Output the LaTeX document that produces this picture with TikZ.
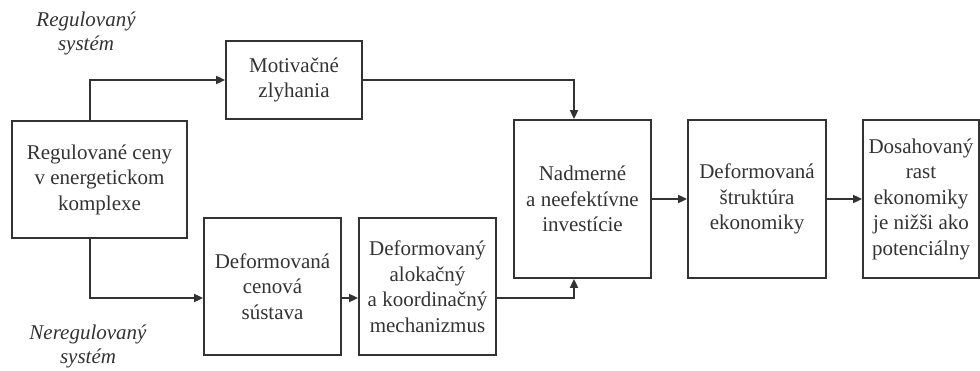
\documentclass[tikz,border=0pt]{standalone}
\usepackage{fontspec}
\setmainfont{Liberation Serif}
\usetikzlibrary{arrows.meta}
\definecolor{ink}{HTML}{333333}
\begin{document}
\begin{tikzpicture}[x=1pt,y=-1pt,
  box/.style={draw=ink,line width=1.8pt,inner sep=0pt,align=center,text=ink,
    font=\fontsize{21}{25.5}\selectfont},
  lab/.style={align=center,text=ink,font=\fontsize{21}{24}\selectfont\itshape},
  arr/.style={draw=ink,line width=1.8pt,-{Triangle[length=9pt,width=8pt]}}]
\useasboundingbox (0,0) rectangle (980,370);
\node[box,minimum width=175pt,minimum height=117pt] (reg) at (99.5,179.5) {Regulované ceny\\v energetickom\\komplexe};
\node[box,minimum width=136pt,minimum height=78pt] (mot) at (294,80) {Motivačné\\zlyhania};
\node[box,minimum width=137pt,minimum height=137pt] (cen) at (272.5,286.5) {Deformovaná\\cenová\\sústava};
\node[box,minimum width=137pt,minimum height=137pt] (alo) at (427.5,286.5) {Deformovaný\\alokačný\\a koordinačný\\mechanizmus};
\node[box,minimum width=137pt,minimum height=158pt] (nad) at (582.5,199) {Nadmerné\\a neefektívne\\investície};
\node[box,minimum width=138pt,minimum height=158pt] (str) at (757,199) {Deformovaná\\štruktúra\\ekonomiky};
\node[box,minimum width=116pt,minimum height=158pt] (dos) at (921,199) {Dosahovaný\\rast\\ekonomiky\\je nižši ako\\potenciálny};
\node[lab] (l1) at (86,33) {Regulovaný\\systém};
\node[lab] (l2) at (88,346) {Neregulovaný\\systém};
\coordinate (jx) at (90,0);
\coordinate (jn) at (574,0);
\draw[arr] (reg.north -| jx) |- (mot.west);
\draw[arr] (mot.east) -| (nad.north -| jn);
\draw[arr] (reg.south -| jx) |- ([yshift=-11.5pt]cen.west);
\draw[arr] ([yshift=-11.5pt]cen.east) -- ([yshift=-11.5pt]alo.west);
\draw[arr] ([yshift=-11.5pt]alo.east) -| (nad.south -| jn);
\draw[arr] (nad.east) -- (str.west);
\draw[arr] (str.east) -- (dos.west);
\end{tikzpicture}
\end{document}
